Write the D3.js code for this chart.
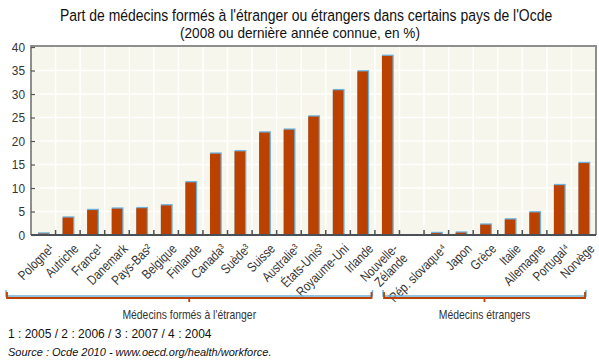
<!DOCTYPE html>
<html>
<head>
<meta charset="utf-8">
<script src="https://cdn.jsdelivr.net/npm/d3@7"></script>
<style>
  body { margin: 0; background: #fff; }
  svg { display: block; }
</style>
</head>
<body>
<svg class="chart"></svg>
<script>
const width = 599
const height = 363
const margin = { top: 47, right: 3, bottom: 128, left: 31 }

// data (in %)
const countries = ['Pologne¹', 'Autriche', 'France¹', 'Danemark', 'Pays-Bas²', 'Belgique', 'Finlande',
  'Canada³', 'Suède³', 'Suisse', 'Australie³', 'États-Unis³', 'Royaume-Uni', 'Irlande', 'Nouvelle-Zélande',
  '', 'Rép. slovaque⁴', 'Japon', 'Grèce', 'Italie', 'Allemagne', 'Portugal⁴', 'Norvège']
const values = [0.3, 3.7, 5.3, 5.6, 5.7, 6.3, 11.2,
  17.3, 17.8, 21.8, 22.4, 25.2, 30.8, 34.8, 38.1,
  null, 0.4, 0.5, 2.2, 3.3, 4.8, 10.6, 15.3]
const groups = [
  { label: 'Médecins formés à l\'étranger', first: 'Pologne¹', last: 'Nouvelle-Zélande' },
  { label: 'Médecins étrangers', first: 'Rép. slovaque⁴', last: 'Norvège' }
]
const yTicks = [0, 5, 10, 15, 20, 25, 30, 35, 40]
const title = 'Part de médecins formés à l\'étranger ou étrangers dans certains pays de l\'Ocde'
const subtitle = '(2008 ou dernière année connue, en %)'
const footnote = '1 : 2005 / 2 : 2006 / 3 : 2007 / 4 : 2004'
const source = 'Source : Ocde 2010 - www.oecd.org/health/workforce.'

const sans = '"Liberation Sans", Arial, sans-serif'
const squeeze = 0.82
const orange = '#ba4100'
const blue = '#6fb1d9'

const data = countries.map((c, i) => ({ c, v: values[i] }))

const x = d3.scaleBand()
  .domain(countries)
  .range([margin.left, width - margin.right])
  .padding(0)

const y = d3.scaleLinear()
  .domain([0, 40])
  .range([height - margin.bottom, margin.top])

const svg = d3.select('.chart')
  .attr('width', width)
  .attr('height', height)
  .attr('viewBox', [0, 0, width, height])

const x0 = margin.left
const x1 = width - margin.right
const yb = y(0)
const yt = y(40)

// plot background
svg.append('rect')
  .attr('x', x0).attr('y', yt - 1)
  .attr('width', x1 - x0).attr('height', yb - yt + 1)
  .attr('fill', '#f6f6ec')

// grid
svg.append('g')
  .attr('stroke', '#fff')
  .attr('stroke-width', 1.5)
  .selectAll('line.h')
  .data(yTicks.slice(1, -1))
  .join('line')
  .attr('x1', x0).attr('x2', x1)
  .attr('y1', d => y(d)).attr('y2', d => y(d))

const bounds = countries.slice(1).map(c => x(c))
svg.append('g')
  .attr('stroke', '#fff')
  .attr('stroke-width', 1.5)
  .selectAll('line')
  .data(bounds)
  .join('line')
  .attr('x1', d => d).attr('x2', d => d)
  .attr('y1', yt).attr('y2', yb)

// bars
const bw = 10.5
const bars = svg.append('g')
  .selectAll('g')
  .data(data.filter(d => d.v != null))
  .join('g')
bars.append('rect')
  .attr('x', d => x(d.c) + x.bandwidth() / 2 - bw / 2)
  .attr('y', d => y(d.v) - 1.3)
  .attr('width', bw + 1.3)
  .attr('height', d => yb - y(d.v) + 1.3)
  .attr('fill', blue)
bars.append('rect')
  .attr('x', d => x(d.c) + x.bandwidth() / 2 - bw / 2)
  .attr('y', d => y(d.v))
  .attr('width', bw)
  .attr('height', d => yb - y(d.v))
  .attr('fill', orange)

// frame
svg.append('path')
  .attr('d', `M${x0},${yb}V${yt - 1}H${x1}V${yb}`)
  .attr('fill', 'none')
  .attr('stroke', '#8e8e8e')
  .attr('stroke-width', 2)

// y axis
svg.append('g')
  .attr('transform', `translate(${x0},0)`)
  .call(d3.axisRight(y).tickValues(yTicks).tickSize(4).tickFormat(''))
  .call(g => g.select('.domain').remove())
  .call(g => g.selectAll('.tick line').attr('stroke', '#555').attr('stroke-width', 1.2))
svg.append('g')
  .attr('transform', `translate(${x0},0)`)
  .call(d3.axisLeft(y).tickValues(yTicks).tickSize(0).tickPadding(6))
  .call(g => g.select('.domain').remove())
  .call(g => g.selectAll('text')
    .attr('font-family', sans)
    .attr('font-size', 13.5)
    .attr('fill', '#333')
    .attr('transform', 'scale(0.88,1)'))
  .call(g => g.selectAll('.tick text').attr('x', -6 / 0.88))

// bottom axis line and ticks
svg.append('g')
  .attr('stroke', '#4a5055')
  .attr('stroke-width', 1.5)
  .selectAll('line')
  .data(bounds)
  .join('line')
  .attr('x1', d => d).attr('x2', d => d)
  .attr('y1', yb).attr('y2', yb - 5)
svg.append('line')
  .attr('x1', x0).attr('x2', x1)
  .attr('y1', yb).attr('y2', yb)
  .attr('stroke', '#4a5055')
  .attr('stroke-width', 2)

// x labels
const lab = svg.append('g')
  .attr('font-family', sans)
  .attr('font-size', 13.5)
  .attr('fill', '#333')
  .attr('text-anchor', 'end')
  .selectAll('text')
  .data(data.filter(d => d.c))
  .join('text')
  .attr('transform', d => `translate(${x(d.c) + x.bandwidth() / 2 + 3},${yb + 6}) rotate(-45) scale(${squeeze},1)`)
lab.each(function (d) {
  const t = d3.select(this)
  if (d.c === 'Nouvelle-Zélande') {
    t.append('tspan').attr('x', 0).attr('dy', '0.9em').text('Nouvelle-')
    t.append('tspan').attr('x', 0).attr('dy', '1.0em').text('Zélande')
  } else {
    t.append('tspan').attr('x', 0).attr('dy', '0.9em').text(d.c)
  }
})

// group brackets
const by = 297
const bracket = [
  { g: groups[0], a: x(groups[0].first) - 25, b: x(groups[0].last) + x.bandwidth() - 27 },
  { g: groups[1], a: x(groups[1].first) - 41, b: x(groups[1].last) + x.bandwidth() - 10 }
]
const br = svg.append('g').selectAll('g').data(bracket).join('g')
br.append('path')
  .attr('d', d => `M${d.a},${by - 7}V${by - 1}H${d.b}V${by - 7}`)
  .attr('fill', 'none')
  .attr('stroke', blue)
  .attr('stroke-width', 1.5)
br.append('path')
  .attr('d', d => `M${d.a + 1},${by - 5}V${by + 1}H${d.b - 1}V${by - 5}M${(d.a + d.b) / 2},${by + 1}V${by + 5}`)
  .attr('fill', 'none')
  .attr('stroke', orange)
  .attr('stroke-width', 1.8)
br.append('text')
  .attr('transform', d => `translate(${(d.a + d.b) / 2},319) scale(0.8,1)`)
  .attr('text-anchor', 'middle')
  .attr('font-family', sans)
  .attr('font-size', 13)
  .attr('fill', '#333')
  .text(d => d.g.label)

// titles
svg.append('text')
  .attr('transform', 'translate(306,21) scale(0.82,1)')
  .attr('text-anchor', 'middle')
  .attr('font-family', sans)
  .attr('font-size', 17)
  .attr('fill', '#111')
  .text(title)
svg.append('text')
  .attr('transform', 'translate(300,38) scale(0.97,1)')
  .attr('text-anchor', 'middle')
  .attr('font-family', sans)
  .attr('font-size', 14)
  .attr('fill', '#111')
  .text(subtitle)

// notes
svg.append('text')
  .attr('x', 8).attr('y', 338)
  .attr('font-family', sans)
  .attr('font-size', 12)
  .attr('fill', '#111')
  .text(footnote)
svg.append('text')
  .attr('x', 8).attr('y', 356)
  .attr('font-family', sans)
  .attr('font-size', 11)
  .attr('font-style', 'italic')
  .attr('fill', '#111')
  .text(source)
</script>
</body>
</html>
